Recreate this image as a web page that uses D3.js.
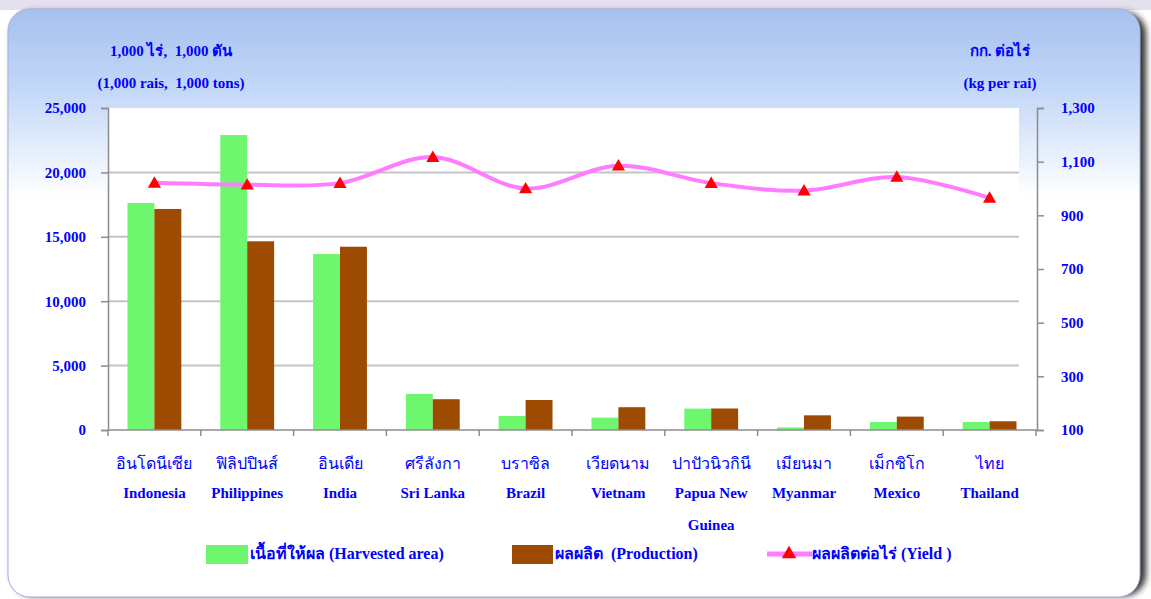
<!DOCTYPE html>
<html lang="th">
<head>
<meta charset="utf-8">
<title>Cassava area, production and yield</title>
<script src="https://d3js.org/d3.v7.js"></script>
<style>
  body { margin: 0; background: #ffffff; }
  text { font-family: "Liberation Serif", "Times New Roman", serif; fill: #0000ff; font-weight: bold; white-space: pre; }
  .thai { font-weight: normal; }
</style>
</head>
<body>
<script>
var w = 1151;
var h = 599;

// data
var thaiNames = ["อินโดนีเซีย", "ฟิลิปปินส์", "อินเดีย", "ศรีลังกา", "บราซิล", "เวียดนาม", "ปาปัวนิวกินี", "เมียนมา", "เม็กซิโก", "ไทย"];
var engNames = ["Indonesia", "Philippines", "India", "Sri Lanka", "Brazil", "Vietnam", "Papua New|Guinea", "Myanmar", "Mexico", "Thailand"];
var harvestedArea = [17620, 22900, 13660, 2800, 1090, 960, 1660, 200, 620, 620];
var production = [17160, 14650, 14230, 2390, 2330, 1770, 1670, 1140, 1040, 680];
var yieldKg = [1021, 1014, 1020, 1117, 1000, 1085, 1020, 992, 1043, 965];
var leftTicks = [0, 5000, 10000, 15000, 20000, 25000];
var rightTicks = [100, 300, 500, 700, 900, 1100, 1300];

var pLeft = 108, pRight = 1037, pTop = 108, pBottom = 430, plotRight = 1019;

var svg = d3.select("body").append("svg")
  .attr("width", w)
  .attr("height", h);

var defs = svg.append("defs");
var grad = defs.append("linearGradient").attr("id", "panelGrad")
  .attr("x1", 0).attr("y1", 0).attr("x2", 0).attr("y2", 1);
grad.append("stop").attr("offset", "0").attr("stop-color", "#a6c0ef");
grad.append("stop").attr("offset", "0.14").attr("stop-color", "#c4d8f8");
grad.append("stop").attr("offset", "0.32").attr("stop-color", "#ffffff");
grad.append("stop").attr("offset", "1").attr("stop-color", "#ffffff");

defs.append("filter").attr("id", "blur")
  .append("feGaussianBlur").attr("stdDeviation", 3);

// page and panel
svg.append("rect").attr("x", 0).attr("y", 0).attr("width", w).attr("height", 10).attr("fill", "#e4e0ee");
svg.append("rect")
  .attr("x", 12).attr("y", 12).attr("width", 1134).attr("height", 584)
  .attr("rx", 22).attr("fill", "#303030").attr("filter", "url(#blur)");
svg.append("rect")
  .attr("x", 8).attr("y", 9).attr("width", 1132).attr("height", 588)
  .attr("rx", 22).attr("fill", "url(#panelGrad)")
  .attr("stroke", "#9fb3d8").attr("stroke-width", 1);

// scales
var x0 = d3.scaleBand().domain(engNames).range([pLeft, pRight - 1]);
var groupW = x0.bandwidth() * 0.58;
var x1 = d3.scaleBand().domain(["area", "prod"]).range([-groupW / 2, groupW / 2]);
var yL = d3.scaleLinear().domain([0, 25000]).range([pBottom, pTop]);
var yR = d3.scaleLinear().domain([100, 1300]).range([pBottom, pTop]);
var cx = function (i) { return x0(engNames[i]) + x0.bandwidth() / 2; };

// plot area
svg.append("rect").attr("x", pLeft).attr("y", pTop)
  .attr("width", plotRight - pLeft).attr("height", pBottom - pTop).attr("fill", "#ffffff");

svg.append("g").selectAll("line")
  .data(leftTicks.slice(1, 5))
  .enter().append("line")
  .attr("x1", pLeft).attr("x2", plotRight)
  .attr("y1", d => yL(d)).attr("y2", d => yL(d))
  .attr("stroke", "#c4c4c4").attr("stroke-width", 2);

// bars
var groups = svg.append("g").selectAll("g")
  .data(engNames)
  .enter().append("g")
  .attr("transform", (d, i) => "translate(" + cx(i) + ",0)");

groups.append("rect")
  .attr("x", x1("area")).attr("width", x1.bandwidth())
  .attr("y", (d, i) => yL(harvestedArea[i]))
  .attr("height", (d, i) => pBottom - yL(harvestedArea[i]))
  .attr("fill", "#6ef76e");

groups.append("rect")
  .attr("x", x1("prod")).attr("width", x1.bandwidth())
  .attr("y", (d, i) => yL(production[i]))
  .attr("height", (d, i) => pBottom - yL(production[i]))
  .attr("fill", "#9c4b00");

// axes
var axisColor = "#8c8c8c";
var gL = svg.append("g").attr("transform", "translate(" + pLeft + ",0)")
  .call(d3.axisLeft(yL).tickValues(leftTicks).tickFormat(d3.format(",")).tickSize(7).tickPadding(15));
var gR = svg.append("g").attr("transform", "translate(" + pRight + ",0)")
  .call(d3.axisRight(yR).tickValues(rightTicks).tickFormat(d3.format(",")).tickSize(7).tickPadding(17));
[gL, gR].forEach(function (g) {
  g.select(".domain").attr("stroke", axisColor).attr("stroke-width", 1.5);
  g.selectAll(".tick line").attr("stroke", axisColor).attr("stroke-width", 1.5);
  g.selectAll(".tick text").attr("fill", "#0000ff").attr("font-size", 15)
    .attr("font-family", "Liberation Serif").attr("font-weight", "bold");
});

var xTicks = d3.range(engNames.length + 1).map(i => pLeft + i * x0.bandwidth());
svg.append("line").attr("x1", pLeft).attr("x2", pRight).attr("y1", pBottom).attr("y2", pBottom)
  .attr("stroke", axisColor).attr("stroke-width", 1.5);
svg.append("g").selectAll("line").data(xTicks).enter().append("line")
  .attr("x1", d => d).attr("x2", d => d).attr("y1", pBottom).attr("y2", pBottom + 6)
  .attr("stroke", axisColor).attr("stroke-width", 1.5);

// category labels
var labels = svg.append("g").selectAll("g").data(engNames).enter().append("g")
  .attr("transform", (d, i) => "translate(" + cx(i) + ",0)")
  .attr("text-anchor", "middle");
labels.append("text").attr("class", "thai").attr("y", 469).attr("font-size", 16)
  .text((d, i) => thaiNames[i]);
labels.each(function (d) {
  var parts = d.split("|");
  var g = d3.select(this);
  parts.forEach(function (p, k) {
    g.append("text").attr("y", 498 + k * 32).attr("font-size", 15).text(p);
  });
});

// yield line
var line = d3.line()
  .x((d, i) => cx(i))
  .y(d => yR(d))
  .curve(d3.curveCatmullRom.alpha(0.5));
svg.append("path").datum(yieldKg)
  .attr("d", line).attr("fill", "none")
  .attr("stroke", "#ff7bff").attr("stroke-width", 4);
svg.append("g").selectAll("path").data(yieldKg).enter().append("path")
  .attr("d", d3.symbol(d3.symbolTriangle).size(75))
  .attr("transform", (d, i) => "translate(" + cx(i) + "," + (yR(d) + 1) + ")")
  .attr("fill", "#ff0000");

// axis titles
svg.append("text").attr("x", 171).attr("y", 56).attr("text-anchor", "middle").attr("font-size", 15).text("1,000 ไร่,  1,000 ตัน");
svg.append("text").attr("x", 171).attr("y", 88).attr("text-anchor", "middle").attr("font-size", 15).text("(1,000 rais,  1,000 tons)");
svg.append("text").attr("x", 1000).attr("y", 56).attr("text-anchor", "middle").attr("font-size", 15).text("กก. ต่อไร่");
svg.append("text").attr("x", 1000).attr("y", 88).attr("text-anchor", "middle").attr("font-size", 15).text("(kg per rai)");

// legend
var lg = svg.append("g");
lg.append("rect").attr("x", 206).attr("y", 545).attr("width", 42).attr("height", 19).attr("fill", "#6ef76e");
lg.append("text").attr("x", 250).attr("y", 559).attr("font-size", 16).text("เนื้อที่ให้ผล (Harvested area)");
lg.append("rect").attr("x", 512).attr("y", 545).attr("width", 41).attr("height", 19).attr("fill", "#9c4b00");
lg.append("text").attr("x", 555).attr("y", 559).attr("font-size", 16).text("ผลผลิต  (Production)");
lg.append("line").attr("x1", 767).attr("x2", 812).attr("y1", 554).attr("y2", 554)
  .attr("stroke", "#ff7bff").attr("stroke-width", 5);
lg.append("path").attr("d", d3.symbol(d3.symbolTriangle).size(90))
  .attr("transform", "translate(789,554)").attr("fill", "#ff0000");
lg.append("text").attr("x", 812).attr("y", 559).attr("font-size", 16).text("ผลผลิตต่อไร่ (Yield )");
</script>
</body>
</html>
